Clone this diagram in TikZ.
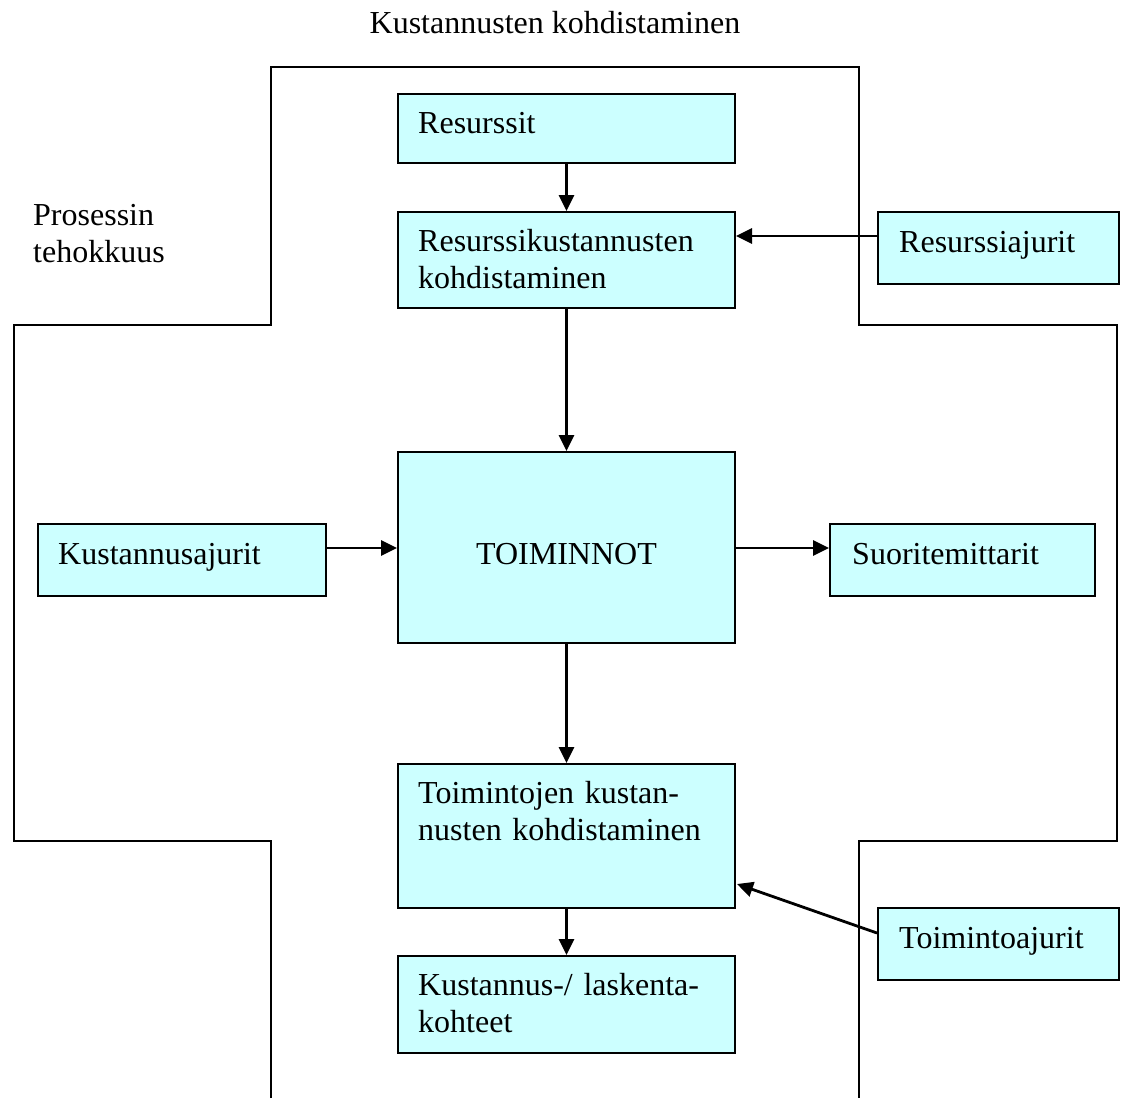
\documentclass[tikz,border=0pt]{standalone}
\usepackage{fontspec}
\setmainfont{Liberation Serif}
\usetikzlibrary{arrows.meta,calc}
\definecolor{boxfill}{HTML}{CCFFFF}
\begin{document}
\begin{tikzpicture}[x=1pt,y=-1pt,
  font=\fontsize{32}{37.5}\selectfont,
  stepbox/.style={draw=black, fill=boxfill, line width=2pt, inner sep=0pt,
    anchor=north west},
  label/.style={inner sep=0pt, anchor=base west, text width=330pt, align=left},
  frame/.style={draw=black, line width=2pt, line join=miter},
  arr/.style={draw=black, line width=2.8pt, -{Triangle[length=16pt,width=15pt]}}]
  \useasboundingbox (0,0) rectangle (1126,1098);

  % cross-shaped outline, open at the bottom
  \draw[frame] (271,1098) -- (271,841) -- (14,841) -- (14,325) -- (271,325)
    -- (271,67) -- (859,67) -- (859,325) -- (1117,325) -- (1117,841)
    -- (859,841) -- (859,1098);

  % headings
  \node[inner sep=0pt, anchor=base] (title) at (555,33) {Kustannusten kohdistaminen};
  \node[label] (pt) at (33,225) {Prosessin\\tehokkuus};

  % boxes
  \node[stepbox, minimum width=337pt, minimum height=69pt]  (res) at (397,93)  {};
  \node[stepbox, minimum width=337pt, minimum height=96pt]  (rk)  at (397,211) {};
  \node[stepbox, minimum width=241pt, minimum height=72pt]  (raj) at (877,211) {};
  \node[stepbox, minimum width=337pt, minimum height=191pt] (toi) at (397,451) {};
  \node[stepbox, minimum width=288pt, minimum height=72pt]  (kaj) at (37,523)  {};
  \node[stepbox, minimum width=265pt, minimum height=72pt]  (smt) at (829,523) {};
  \node[stepbox, minimum width=337pt, minimum height=144pt] (toj) at (397,763) {};
  \node[stepbox, minimum width=241pt, minimum height=72pt]  (toa) at (877,907) {};
  \node[stepbox, minimum width=337pt, minimum height=97pt]  (kk)  at (397,955) {};

  % box texts
  \node[label] (tres) at ($(res.north west)+(21,40)$) {Resurssit};
  \node[label] (trk)  at ($(rk.north west)+(21,40)$)  {Resurssikustannusten\\kohdistaminen};
  \node[label] (traj) at ($(raj.north west)+(22,41)$) {Resurssiajurit};
  \node[inner sep=0pt, anchor=base] (ttoi) at ($(toi.north)+(0,113)$) {TOIMINNOT};
  \node[label] (tkaj) at ($(kaj.north west)+(21,41)$) {Kustannusajurit};
  \node[label] (tsmt) at ($(smt.north west)+(23,41)$) {Suoritemittarit};
  \node[label] (ttoj) at ($(toj.north west)+(21,40)$) {Toimintojen kustan-\\nusten kohdistaminen};
  \node[label] (ttoa) at ($(toa.north west)+(22,41)$) {Toimintoajurit};
  \node[label] (tkk)  at ($(kk.north west)+(21,40)$)  {Kustannus-/ laskenta-\\kohteet};

  % connectors
  \draw[arr] (res.south) -- (rk.north);
  \coordinate (a1) at ($(raj.west)+(0,-12)$);
  \draw[arr] (a1) -- (rk.east |- a1);
  \draw[arr] (rk.south) -- (toi.north);
  \coordinate (a2) at ($(kaj.east)+(0,-12)$);
  \draw[arr] (a2) -- (toi.west |- a2);
  \draw[arr] (toi.east |- a2) -- (smt.west |- a2);
  \draw[arr] (toi.south) -- (toj.north);
  \draw[arr] ($(toa.west)+(0,-11)$) -- ($(toj.east)+(1,48)$);
  \draw[arr] (toj.south) -- (kk.north);
\end{tikzpicture}
\end{document}
